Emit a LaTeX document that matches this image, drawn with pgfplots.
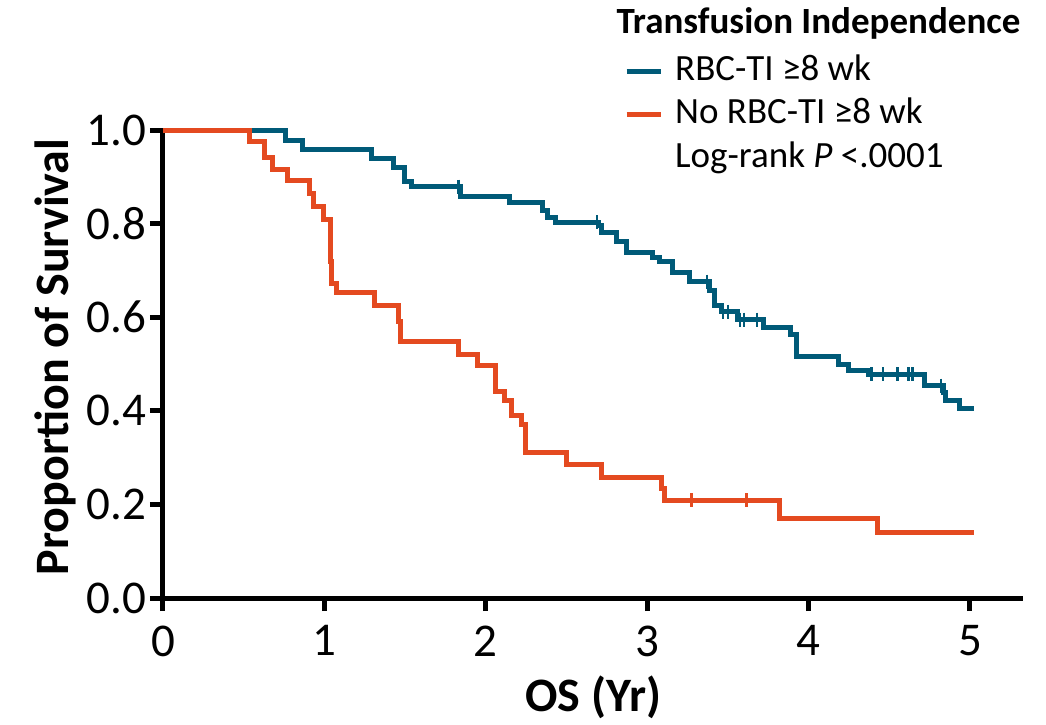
\documentclass[border=0pt]{standalone}
\usepackage{pgfplots}
\usepackage{pgfplotstable}
\pgfplotsset{compat=1.18}
\usepackage{fontspec}
\setmainfont{Carlito}

\definecolor{tiTeal}{RGB}{0,90,120}
\definecolor{tiOrange}{RGB}{228,74,32}

% Kaplan-Meier steps: time (yr), survival after the event at that time
\pgfplotstableread{
t s
0.000 1.000
0.756 0.977
0.865 0.959
1.293 0.940
1.427 0.920
1.499 0.890
1.540 0.879
1.846 0.858
2.146 0.845
2.352 0.829
2.383 0.812
2.430 0.803
2.700 0.795
2.720 0.781
2.811 0.761
2.873 0.739
3.030 0.728
3.075 0.720
3.158 0.695
3.260 0.676
3.385 0.658
3.420 0.624
3.460 0.612
3.559 0.595
3.720 0.578
3.885 0.562
3.926 0.516
4.184 0.499
4.246 0.487
4.370 0.478
4.721 0.454
4.834 0.440
4.850 0.423
4.934 0.405
5.025 0.405
}\tiYes

\pgfplotstableread{
t s
0.000 1.000
0.539 0.975
0.628 0.941
0.680 0.915
0.770 0.892
0.905 0.865
0.930 0.836
0.993 0.808
1.035 0.720
1.045 0.672
1.076 0.652
1.313 0.626
1.458 0.590
1.470 0.548
1.830 0.521
1.947 0.496
2.063 0.442
2.115 0.421
2.162 0.390
2.222 0.370
2.243 0.311
2.500 0.286
2.718 0.257
3.090 0.234
3.110 0.209
3.819 0.169
4.426 0.140
5.025 0.140
}\tiNo

% censored observations
\pgfplotstableread{
t s
1.830 0.879
2.690 0.803
3.370 0.676
3.470 0.612
3.500 0.612
3.575 0.595
3.600 0.595
3.680 0.595
4.390 0.478
4.460 0.478
4.550 0.478
4.620 0.478
4.645 0.478
4.820 0.454
}\cenYes

\pgfplotstableread{
t s
3.276 0.209
3.616 0.209
}\cenNo

\begin{document}
\begin{tikzpicture}
\useasboundingbox (-163pt,-126pt) rectangle (883pt,598pt);
\begin{axis}[
  scale only axis, width=857pt, height=468pt,
  xmin=0, xmax=5.31, ymin=0, ymax=1,
  axis lines=left,
  axis line style={-, line width=5pt, line cap=rect},
  tick align=outside, major tick length=13pt,
  tick style={line width=5pt, black},
  xtick={0,1,2,3,4,5}, ytick={0,0.2,0.4,0.6,0.8,1},
  yticklabel style={/pgf/number format/.cd, fixed, fixed zerofill, precision=1},
  xticklabel style={yshift=-11pt},
  /pgf/number format/assume math mode=true,
  ticklabel style={font=\fontsize{47}{56}\selectfont},
  xlabel={OS (Yr)}, ylabel={Proportion of Survival},
  label style={font=\fontsize{48}{58}\selectfont\bfseries},
  xlabel style={at={(axis description cs:0.502,-0.212)}, anchor=center},
  ylabel style={at={(axis description cs:-0.126,0.515)}, anchor=center},
  clip=false,
  legend style={draw=none, fill=none,
    at={(axis description cs:0.5344,1.1667)}, anchor=north west,
    font=\fontsize{37}{44}\selectfont,
    row sep=9.5pt, column sep=12pt,
    nodes={inner sep=0pt, text height=26pt, text depth=8pt}},
  legend cell align=left,
  legend image code/.code={\draw[#1, line width=5pt] (0pt,0pt) -- (34pt,0pt);},
]
\addplot[const plot, tiTeal, line width=5pt] table[x=t, y=s] {\tiYes};
\addlegendentry{RBC-TI ≥8 wk}
\addplot[const plot, tiOrange, line width=5pt] table[x=t, y=s] {\tiNo};
\addlegendentry{No RBC-TI ≥8 wk}
\addlegendimage{empty legend}
\addlegendentry{Log-rank \textit{P} <.0001}

\addplot[only marks, mark=|, mark size=7pt, tiTeal, line width=2.5pt, forget plot] table[x=t, y=s] {\cenYes};
\addplot[only marks, mark=|, mark size=7pt, tiOrange, line width=2.5pt, forget plot] table[x=t, y=s] {\cenNo};

\node[anchor=base west, font=\fontsize{37}{44}\selectfont\bfseries, inner sep=0pt]
  at (axis description cs:0.529,1.207) {Transfusion Independence};
\end{axis}
\end{tikzpicture}
\end{document}
